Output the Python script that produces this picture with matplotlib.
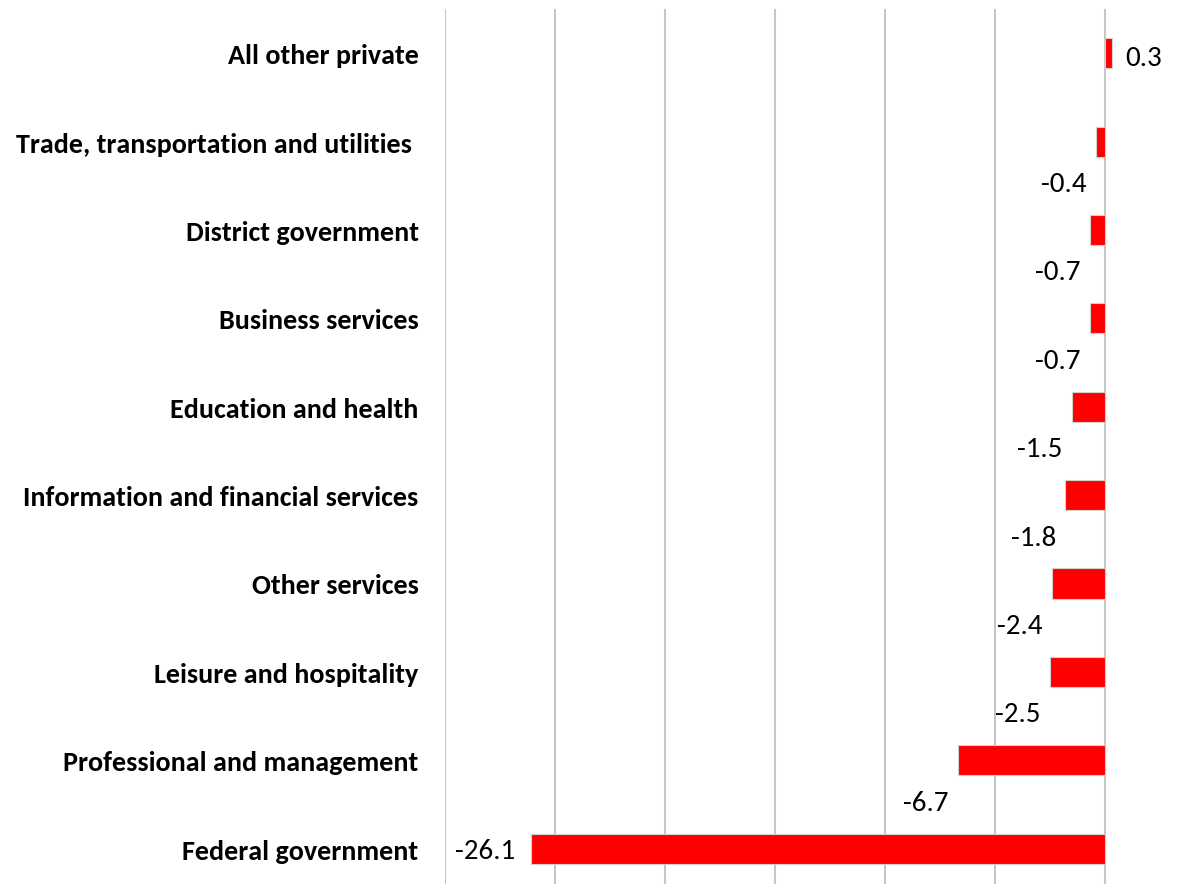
import matplotlib.pyplot as plt
from matplotlib import font_manager
from matplotlib.textpath import TextPath
from matplotlib.font_manager import FontProperties

categories = ['All other private', 'Trade, transportation and utilities ',
              'District government', 'Business services',
              'Education and health', 'Information and financial services',
              'Other services', 'Leisure and hospitality',
              'Professional and management', 'Federal government']
values = [0.3, -0.4, -0.7, -0.7, -1.5, -1.8, -2.4, -2.5, -6.7, -26.1]
gridticks = [-30, -25, -20, -15, -10, -5, 0]

names = {f.name for f in font_manager.fontManager.ttflist}


def pick(cands):
    for c in cands:
        if c in names:
            return c
    return 'DejaVu Sans'


cat_font = pick(['Carlito', 'Roboto Condensed', 'Liberation Sans Narrow',
                 'Open Sans Condensed', 'Roboto'])
val_font = pick(['Carlito', 'Lato'])


def fit_size(text, font, weight, width_px):
    # size (pt at 100 dpi) so the text is about width_px wide
    fp = FontProperties(family=font, weight=weight, size=10)
    w = TextPath((0, 0), text, prop=fp).get_extents().width  # in points
    return 10 * width_px * 0.72 / w

cat_size = fit_size('Trade, transportation and utilities', cat_font, 'bold', 395)
val_size = fit_size('-26.1', val_font, 'normal', 58)

fig = plt.figure(figsize=(11.78, 8.95), dpi=100)
ax = fig.add_axes([445 / 1178, 10 / 895, 35 * 22 / 1178, 875 / 895])

ypos = list(range(len(categories)))
ax.barh(ypos, values, height=0.34, color='#ff0000', edgecolor='#d0d0d0',
        linewidth=0.8, zorder=3)

ax.set_xlim(-30, 5)
ax.set_ylim(len(categories) - 0.6, -0.5)
ax.set_xticks(gridticks)
ax.set_xticklabels([])
ax.tick_params(length=0)
ax.grid(axis='x', color='#c6c6c6', linewidth=1.5, zorder=0)
for s in ax.spines.values():
    s.set_visible(False)

ax.set_yticks(ypos)
ax.set_yticklabels(categories, fontfamily=cat_font, fontweight='bold', fontsize=cat_size)
ax.tick_params(axis='y', pad=19)

vmin = min(values)
for y, v in zip(ypos, values):
    if v > 0:
        ax.annotate(f'{v:.1f}', (v, y), xytext=(14, -4), textcoords='offset pixels',
                    ha='left', va='center', fontsize=val_size, fontfamily=val_font)
    elif v == vmin:
        ax.annotate(f'{v:.1f}', (v, y), xytext=(-16, -2), textcoords='offset pixels',
                    ha='right', va='center', fontsize=val_size, fontfamily=val_font)
    else:
        ax.annotate(f'{v:.1f}', (v, y), xytext=(-32, -42), textcoords='offset pixels',
                    ha='center', va='center', fontsize=val_size, fontfamily=val_font)

fig.savefig('out.png', dpi=100)
